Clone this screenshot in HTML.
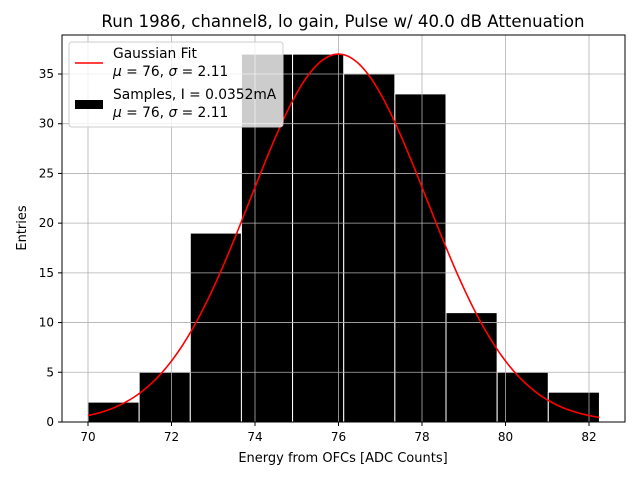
<!DOCTYPE html>
<html><head><meta charset="utf-8"><style>
body{margin:0;background:#fff;}
svg text{font-family:"DejaVu Sans","Liberation Sans",sans-serif;}
</style></head><body>
<svg width="640" height="480" xmlns="http://www.w3.org/2000/svg">
<rect width="640" height="480" fill="#fff"/>
<text x="343" y="27" font-size="16.6" text-anchor="middle">Run 1986, channel8, lo gain, Pulse w/ 40.0 dB Attenuation</text>
<g id="bars"></g>
<g id="grid"></g>
<path id="fit" fill="none" stroke="red" stroke-width="1.6"/>
<rect x="62" y="35" width="563" height="387" fill="none" stroke="#000" stroke-width="1"/>
<g id="ticks"></g>
<text x="343" y="462" font-size="13" text-anchor="middle">Energy from OFCs [ADC Counts]</text>
<text x="26" y="228" font-size="13" text-anchor="middle" transform="rotate(-90 26 228)">Entries</text>
<g>
<rect x="69" y="42" width="214" height="85" rx="3" fill="#fff" fill-opacity="0.8" stroke="#ccc"/>
<line x1="75" y1="63" x2="103" y2="63" stroke="red" stroke-width="1.6"/>
<text x="113" y="58" font-size="13.8">Gaussian Fit</text>
<text x="113" y="76" font-size="13.8"><tspan font-style="italic">μ</tspan> = 76, <tspan font-style="italic">σ</tspan> = 2.11</text>
<rect x="75" y="100" width="28" height="9" fill="#000"/>
<text x="113" y="99" font-size="13.8">Samples, I = 0.0352mA</text>
<text x="113" y="117" font-size="13.8"><tspan font-style="italic">μ</tspan> = 76, <tspan font-style="italic">σ</tspan> = 2.11</text>
</g>
</svg>
<script>
const binStart = 70, binWidth = 1.225;
const counts = [2,5,19,37,37,35,33,11,5,3];
const xTicks = [70,72,74,76,78,80,82];
const yTicks = [0,5,10,15,20,25,30,35];
const fitMu = 76, fitSigma = 2.11, fitAmp = 37;
const NS="http://www.w3.org/2000/svg";
const X=v=>88+(v-70)*41.75, Y=v=>422-v*9.943;
function mk(t,a,p){const e=document.createElementNS(NS,t);for(const k in a)e.setAttribute(k,a[k]);p.appendChild(e);return e;}
const bars=document.getElementById('bars');
counts.forEach((c,i)=>{const x0=X(binStart+i*binWidth),x1=X(binStart+(i+1)*binWidth);
const r=mk('rect',{x:x0,y:Y(c),width:x1-x0,height:Y(0)-Y(c),fill:'#000',stroke:'#fff','stroke-width':1},bars);

});
const g=document.getElementById('grid'),tk=document.getElementById('ticks');
xTicks.forEach(v=>{const x=X(v);mk('line',{x1:x,x2:x,y1:35,y2:422,stroke:'#b0b0b0','stroke-width':0.8},g);
mk('line',{x1:x,x2:x,y1:422,y2:426,stroke:'#000'},tk);
const t=mk('text',{x:x,y:441,'font-size':12,'text-anchor':'middle'},tk);t.textContent=v;

});
yTicks.forEach(v=>{const y=Y(v);mk('line',{x1:62,x2:625,y1:y,y2:y,stroke:'#b0b0b0','stroke-width':0.8},g);
mk('line',{x1:58,x2:62,y1:y,y2:y,stroke:'#000'},tk);
const t=mk('text',{x:54,y:y+4,'font-size':12,'text-anchor':'end'},tk);t.textContent=v;

});
let d='';const end=binStart+counts.length*binWidth;
for(let i=0;i<=200;i++){const v=binStart+(end-binStart)*i/200;const f=fitAmp*Math.exp(-((v-fitMu)**2)/(2*fitSigma*fitSigma));
d+=(i?'L':'M')+X(v).toFixed(2)+' '+Y(f).toFixed(2);}
document.getElementById('fit').setAttribute('d',d);
</script>
</body></html>
